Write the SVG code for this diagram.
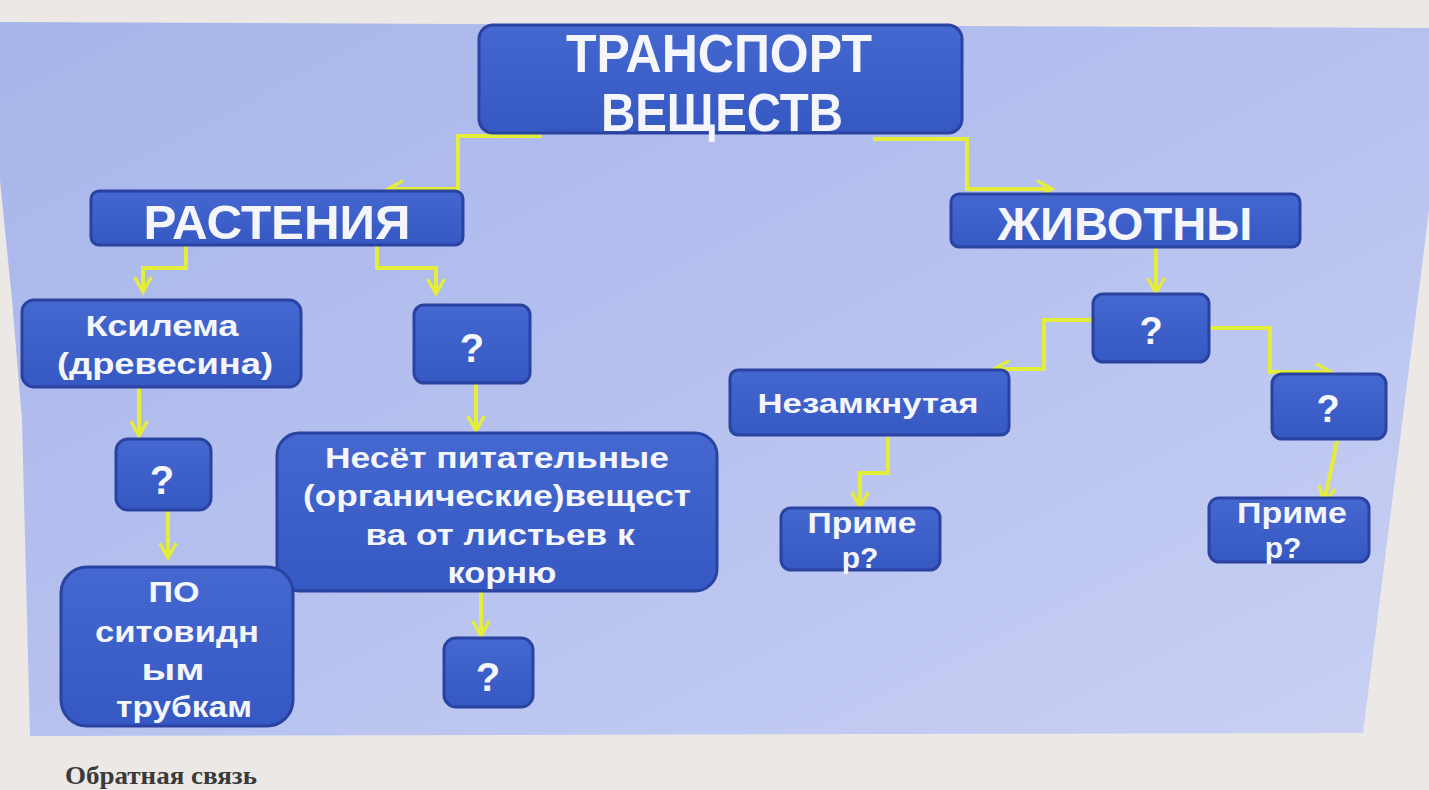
<svg xmlns="http://www.w3.org/2000/svg" width="1429" height="790" viewBox="0 0 1429 790">
<defs>
<linearGradient id="slide" x1="0" y1="0" x2="1" y2="1">
<stop offset="0" stop-color="#a7b5ea"/>
<stop offset="0.5" stop-color="#b6c1ef"/>
<stop offset="1" stop-color="#c9d0f3"/>
</linearGradient>
<linearGradient id="box" x1="0" y1="0" x2="0" y2="1">
<stop offset="0" stop-color="#4467d0"/>
<stop offset="1" stop-color="#3658c2"/>
</linearGradient>
<marker id="arr" viewBox="0 0 12 12" refX="10" refY="6" markerWidth="5" markerHeight="5" orient="auto" markerUnits="strokeWidth">
<path d="M1,1 L10,6 L1,11" fill="none" stroke="#e4ee3a" stroke-width="2"/>
</marker>
</defs>
<style>
.b{fill:url(#box);stroke:#2a43a0;stroke-width:3}
.t{font-family:"Liberation Sans",Arial,sans-serif;font-weight:bold;fill:#f4f6fb;text-anchor:middle}
.c{fill:none;stroke:#e4ee3a;stroke-width:4;stroke-linejoin:miter;marker-end:url(#arr)}
</style>
<rect x="0" y="0" width="1429" height="790" fill="#ebe8e5"/>
<polygon points="0,22 1429,28 1429,210 1363,733 30,736 22,420 12,300 0,180" fill="url(#slide)"/>

<g id="connectors">
<path class="c" d="M542,136 H458 V189 H388"/>
<path class="c" d="M873,139 H967 V189 H1052"/>
<path class="c" d="M186,246 V268 H143 V292"/>
<path class="c" d="M377,246 V268 H436 V294"/>
<path class="c" d="M139,388 V436"/>
<path class="c" d="M476,384 V431"/>
<path class="c" d="M168,511 V558"/>
<path class="c" d="M481,592 V636"/>
<path class="c" d="M1156,247 V293"/>
<path class="c" d="M1093,320 H1044 V369 H994"/>
<path class="c" d="M1209,328 H1270 V372 H1331"/>
<path class="c" d="M888,437 V473 H860 V507"/>
<path class="c" d="M1337,441 L1331,470 L1324,502"/>
</g>

<g id="n-title">
<rect class="b" x="479" y="25" width="483" height="108" rx="14"/>
<text class="t" x="719" y="72" font-size="54" textLength="306" lengthAdjust="spacingAndGlyphs">ТРАНСПОРТ</text>
<text class="t" x="722" y="131" font-size="54" textLength="242" lengthAdjust="spacingAndGlyphs">ВЕЩЕСТВ</text>
</g>

<g id="n-plants">
<rect class="b" x="91" y="191" width="372" height="54" rx="8"/>
<text class="t" x="277" y="239" font-size="48" textLength="267" lengthAdjust="spacingAndGlyphs">РАСТЕНИЯ</text>
</g>

<g id="n-animals">
<rect class="b" x="951" y="194" width="349" height="53" rx="8"/>
<text class="t" x="1125" y="240" font-size="46" textLength="255" lengthAdjust="spacingAndGlyphs">ЖИВОТНЫ</text>
</g>

<g id="n-xylem">
<rect class="b" x="22" y="300" width="279" height="87" rx="12"/>
<text class="t" x="162" y="336" font-size="30" textLength="153" lengthAdjust="spacingAndGlyphs">Ксилема</text>
<text class="t" x="165" y="374" font-size="30" textLength="216" lengthAdjust="spacingAndGlyphs">(древесина)</text>
</g>

<g id="n-q1">
<rect class="b" x="414" y="305" width="116" height="78" rx="10"/>
<text class="t" x="472" y="362" font-size="40">?</text>
</g>

<g id="n-q2">
<rect class="b" x="116" y="439" width="95" height="71" rx="12"/>
<text class="t" x="162" y="494" font-size="40">?</text>
</g>

<g id="n-phloem">
<rect class="b" x="277" y="433" width="440" height="158" rx="22"/>
<text class="t" x="497" y="468" font-size="29" textLength="344" lengthAdjust="spacingAndGlyphs">Несёт питательные</text>
<text class="t" x="497" y="506" font-size="29" textLength="388" lengthAdjust="spacingAndGlyphs">(органические)вещест</text>
<text class="t" x="500" y="545" font-size="29" textLength="269" lengthAdjust="spacingAndGlyphs">ва от листьев к</text>
<text class="t" x="502" y="583" font-size="29" textLength="109" lengthAdjust="spacingAndGlyphs">корню</text>
</g>

<g id="n-sieve">
<rect class="b" x="61" y="567" width="232" height="159" rx="26"/>
<text class="t" x="174" y="602" font-size="29" textLength="51" lengthAdjust="spacingAndGlyphs">ПО</text>
<text class="t" x="177" y="642" font-size="29" textLength="164" lengthAdjust="spacingAndGlyphs">ситовидн</text>
<text class="t" x="173" y="680" font-size="29" textLength="63" lengthAdjust="spacingAndGlyphs">ым</text>
<text class="t" x="184" y="717" font-size="29" textLength="136" lengthAdjust="spacingAndGlyphs">трубкам</text>
</g>

<g id="n-q3">
<rect class="b" x="444" y="638" width="89" height="69" rx="12"/>
<text class="t" x="488" y="691" font-size="40">?</text>
</g>

<g id="n-q4">
<rect class="b" x="1093" y="294" width="116" height="68" rx="10"/>
<text class="t" x="1151" y="344" font-size="38">?</text>
</g>

<g id="n-open">
<rect class="b" x="730" y="370" width="279" height="65" rx="8"/>
<text class="t" x="868" y="413" font-size="28" textLength="221" lengthAdjust="spacingAndGlyphs">Незамкнутая</text>
</g>

<g id="n-q5">
<rect class="b" x="1272" y="374" width="114" height="65" rx="10"/>
<text class="t" x="1328" y="422" font-size="38">?</text>
</g>

<g id="n-ex1">
<rect class="b" x="781" y="508" width="159" height="62" rx="10"/>
<text class="t" x="862" y="533" font-size="30" textLength="109" lengthAdjust="spacingAndGlyphs">Приме</text>
<text class="t" x="860" y="568" font-size="30">р?</text>
</g>

<g id="n-ex2">
<rect class="b" x="1209" y="498" width="160" height="64" rx="10"/>
<text class="t" x="1292" y="523" font-size="30" textLength="110" lengthAdjust="spacingAndGlyphs">Приме</text>
<text class="t" x="1283" y="558" font-size="30">р?</text>
</g>

<text x="65" y="784" font-family="Liberation Serif, serif" font-size="26" font-weight="bold" fill="#3a3a3a" textLength="192" lengthAdjust="spacingAndGlyphs">Обратная связь</text>
</svg>
